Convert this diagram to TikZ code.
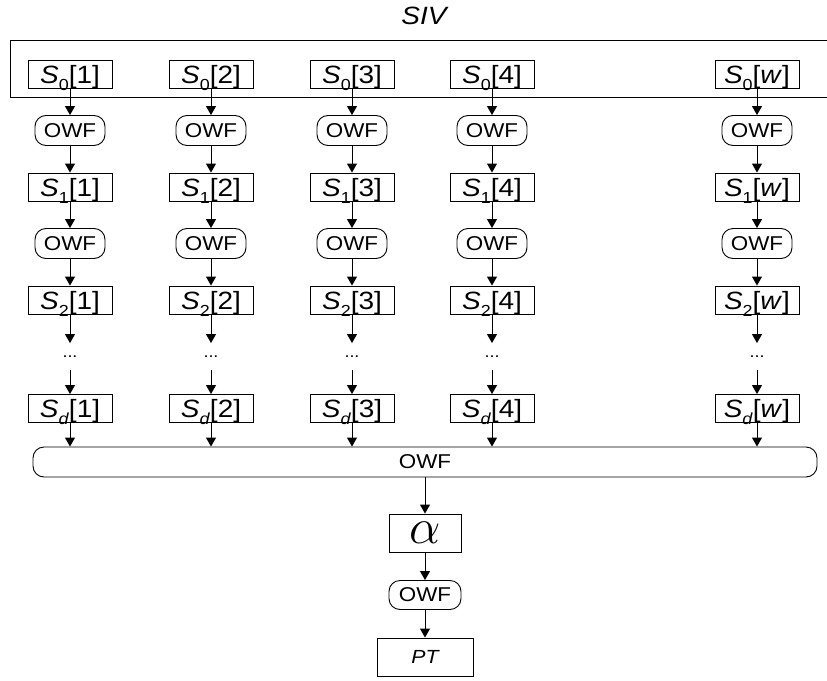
\documentclass[tikz,border=0pt]{standalone}
\usepackage{fontspec}
\setmainfont[FakeStretch=1.12]{Liberation Sans}
\usetikzlibrary{arrows.meta,positioning}

% S with a dropped index, then [j]
\newcommand{\sidx}[2]{\textit{S}\raisebox{-7pt}[0pt][0pt]{\fontsize{16}{16}\selectfont #1}[#2]}

\begin{document}
\begin{tikzpicture}[x=1pt,y=-1pt,line width=0.9pt,node distance=56.5pt,
    box/.style={draw,minimum width=84pt,minimum height=28pt,inner sep=0pt,
      text height=18pt,text depth=0pt,font=\fontsize{25}{30}\selectfont},
    owf/.style={draw,rounded corners=11pt,minimum width=70pt,minimum height=30pt,
      inner sep=0pt,font=\fontsize{20}{24}\selectfont},
    arr/.style={-{Triangle[length=9pt,width=10pt]}}]
    \useasboundingbox (0,0) rectangle (827,680);

    \node[font=\itshape\fontsize{25}{30}\selectfont] (siv) at (424,16) {SIV};
    \draw (10,40) rectangle (830,97);

    % one chain per column
    \foreach \x/\i/\t in {70/1/1,211/2/2,352/3/3,492/4/4,757/w/\textit{w}}{
      \node[box] (s0-\i) at (\x,74) {\sidx{0}{\t}};
      \node[owf] (o1-\i) [below of=s0-\i] {OWF};
      \node[box] (s1-\i) [below of=o1-\i] {\sidx{1}{\t}};
      \node[owf] (o2-\i) [below of=s1-\i] {OWF};
      \node[box] (s2-\i) [below of=o2-\i] {\sidx{2}{\t}};
      \node[minimum height=26pt,font=\fontsize{16}{16}\selectfont] (dots-\i) [below of=s2-\i] {...};
      \node[box] (sd-\i) [below of=dots-\i,node distance=52pt] {\sidx{\textit{d}}{\t}};
      \draw[arr] (s0-\i) -- (o1-\i);
      \draw[arr] (o1-\i) -- (s1-\i);
      \draw[arr] (s1-\i) -- (o2-\i);
      \draw[arr] (o2-\i) -- (s2-\i);
      \draw[arr] (s2-\i) -- (dots-\i);
      \draw[arr] (dots-\i) -- (sd-\i);
    }

    \node[owf,minimum width=784pt] (all) at (425,462) {OWF};
    \foreach \i in {1,2,3,4,w}
      \draw[arr] (sd-\i) -- (sd-\i |- all.north);

    \node[box,minimum width=72pt,minimum height=38pt,text height=,text depth=]
      (alpha) at (425,533) {\scalebox{2}{$\alpha$}};
    \node[owf,minimum width=72pt,minimum height=29pt] (owf) at (425,595) {OWF};
    \node[box,minimum width=96pt,minimum height=38pt,text height=,text depth=,
      font=\itshape\fontsize{19}{22}\selectfont] (pt) at (425,657) {PT};

    \draw[arr] (all) -- (alpha);
    \draw[arr] (alpha) -- (owf);
    \draw[arr] (owf) -- (pt);
\end{tikzpicture}
\end{document}
